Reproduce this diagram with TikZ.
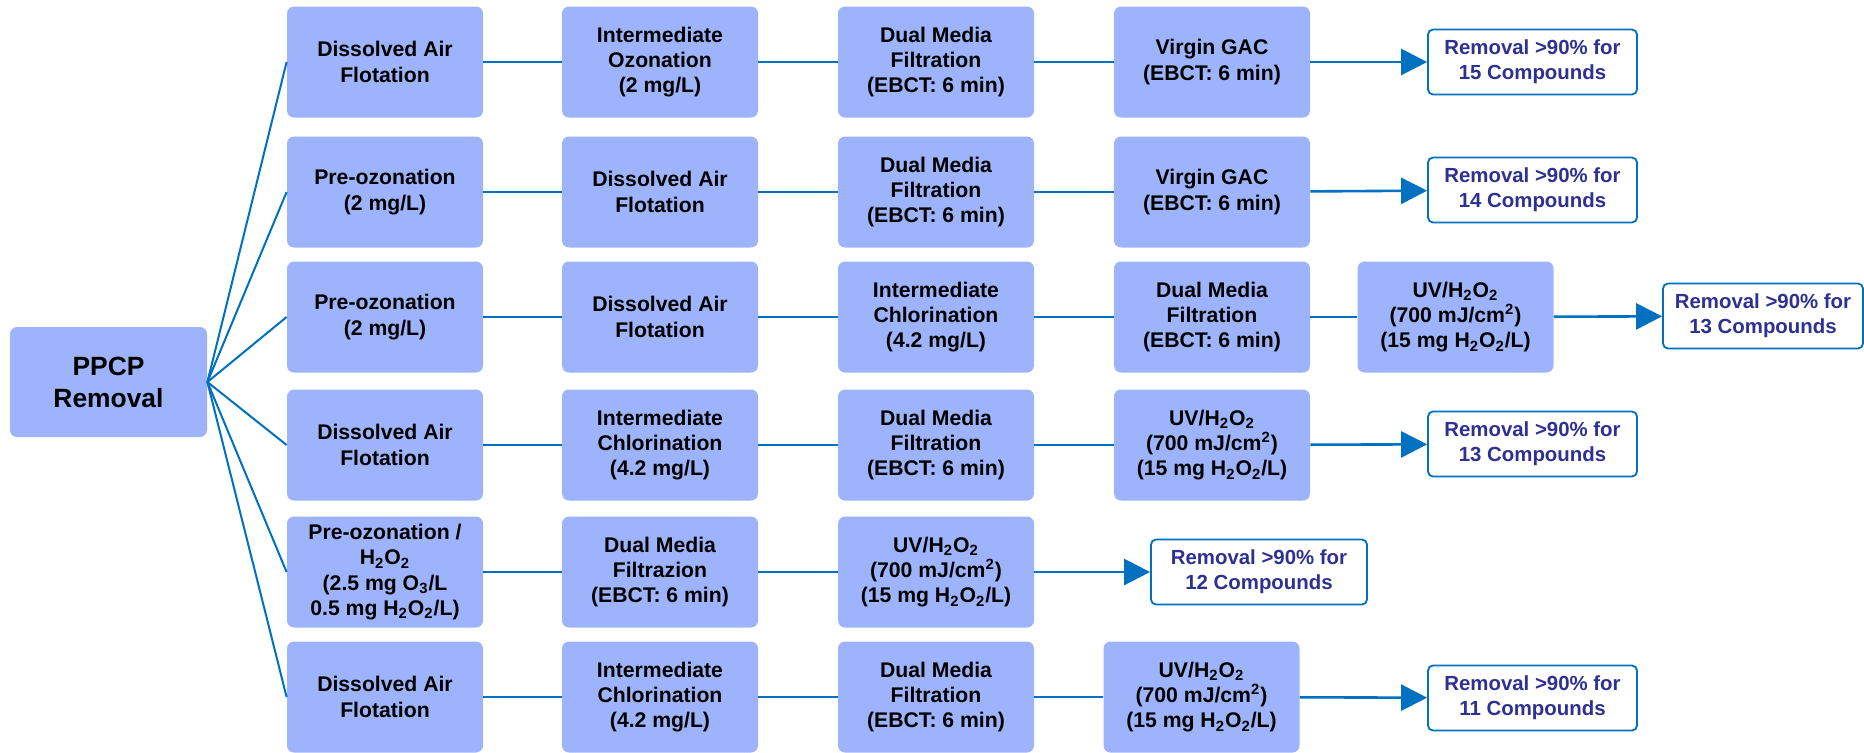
\documentclass[tikz,border=0pt]{standalone}
\usepackage{fontspec}
\setmainfont{Liberation Sans}
\usetikzlibrary{arrows.meta}

\definecolor{stagefill}{RGB}{157,180,252}
\definecolor{linkblue}{RGB}{0,112,192}
\definecolor{navytext}{RGB}{46,49,146}
\newcommand{\hto}{H\textsubscript{2}O\textsubscript{2}}

\begin{document}
\begin{tikzpicture}[x=0.5pt,y=-0.5pt,
    stage/.style={fill=stagefill, rounded corners=3.5pt, minimum width=98pt, minimum height=55.5pt,
        inner sep=0pt, align=center, font=\fontsize{10.6}{12.7}\selectfont\bfseries},
    result/.style={draw=linkblue, line width=0.9pt, fill=white, rounded corners=2.5pt,
        minimum width=104.5pt, minimum height=32.5pt, inner sep=0pt, align=center,
        text=navytext, font=\fontsize{10.2}{12.6}\selectfont\bfseries},
    link/.style={linkblue, line width=1pt},
    flow/.style={linkblue, line width=1.3pt, -{Triangle[length=13pt,width=13pt]}}]

    \useasboundingbox (0,0) rectangle (1864,752);

    \node[stage, minimum width=98.5pt, minimum height=55pt, font=\fontsize{13.2}{16}\selectfont\bfseries]
        (ppcp) at (108.5,382) {PPCP\\Removal};

    % row 1
    \node[stage] (r1a) at (385,62) {Dissolved Air\\Flotation};
    \node[stage] (r1b) at (660,62) {Intermediate\\Ozonation\\(2 mg/L)};
    \node[stage] (r1c) at (936,62) {Dual Media\\Filtration\\(EBCT: 6 min)};
    \node[stage] (r1d) at (1212,62) {Virgin GAC\\(EBCT: 6 min)};
    \node[result] (r1res) at (1532.5,62) {Removal >90\% for\\15 Compounds};

    % row 2
    \node[stage] (r2a) at (385,192) {Pre-ozonation\\(2 mg/L)};
    \node[stage] (r2b) at (660,192) {Dissolved Air\\Flotation};
    \node[stage] (r2c) at (936,192) {Dual Media\\Filtration\\(EBCT: 6 min)};
    \node[stage] (r2d) at (1212,192) {Virgin GAC\\(EBCT: 6 min)};
    \node[result] (r2res) at (1532.5,190) {Removal >90\% for\\14 Compounds};

    % row 3
    \node[stage] (r3a) at (385,317) {Pre-ozonation\\(2 mg/L)};
    \node[stage] (r3b) at (660,317) {Dissolved Air\\Flotation};
    \node[stage] (r3c) at (936,317) {Intermediate\\Chlorination\\(4.2 mg/L)};
    \node[stage] (r3d) at (1212,317) {Dual Media\\Filtration\\(EBCT: 6 min)};
    \node[stage] (r3e) at (1455.5,317) {UV/\hto\\(700 mJ/cm\textsuperscript{2})\\(15 mg \hto/L)};
    \node[result, minimum width=100pt] (r3res) at (1763,316) {Removal >90\% for\\13 Compounds};

    % row 4
    \node[stage] (r4a) at (385,445) {Dissolved Air\\Flotation};
    \node[stage] (r4b) at (660,445) {Intermediate\\Chlorination\\(4.2 mg/L)};
    \node[stage] (r4c) at (936,445) {Dual Media\\Filtration\\(EBCT: 6 min)};
    \node[stage] (r4d) at (1212,445) {UV/\hto\\(700 mJ/cm\textsuperscript{2})\\(15 mg \hto/L)};
    \node[result] (r4res) at (1532.5,444) {Removal >90\% for\\13 Compounds};

    % row 5
    \node[stage] (r5a) at (385,572) {Pre-ozonation /\\\hto\\(2.5 mg O\textsubscript{3}/L\\0.5 mg \hto/L)};
    \node[stage] (r5b) at (660,572) {Dual Media\\Filtrazion\\(EBCT: 6 min)};
    \node[stage] (r5c) at (936,572) {UV/\hto\\(700 mJ/cm\textsuperscript{2})\\(15 mg \hto/L)};
    \node[result, minimum width=108pt] (r5res) at (1259,572) {Removal >90\% for\\12 Compounds};

    % row 6
    \node[stage] (r6a) at (385,697) {Dissolved Air\\Flotation};
    \node[stage] (r6b) at (660,697) {Intermediate\\Chlorination\\(4.2 mg/L)};
    \node[stage] (r6c) at (936,697) {Dual Media\\Filtration\\(EBCT: 6 min)};
    \node[stage] (r6d) at (1201.5,697) {UV/\hto\\(700 mJ/cm\textsuperscript{2})\\(15 mg \hto/L)};
    \node[result] (r6res) at (1532.5,698) {Removal >90\% for\\11 Compounds};

    % fan out
    \draw[link] (ppcp.east) -- (r1a.west);
    \draw[link] (ppcp.east) -- (r2a.west);
    \draw[link] (ppcp.east) -- (r3a.west);
    \draw[link] (ppcp.east) -- (r4a.west);
    \draw[link] (ppcp.east) -- (r5a.west);
    \draw[link] (ppcp.east) -- (r6a.west);

    % chains
    \draw[link] (r1a) -- (r1b);
    \draw[link] (r1b) -- (r1c);
    \draw[link] (r1c) -- (r1d);
    \draw[flow] (r1d) -- (r1res);

    \draw[link] (r2a) -- (r2b);
    \draw[link] (r2b) -- (r2c);
    \draw[link] (r2c) -- (r2d);
    \draw[flow] (r2d) -- (r2res);

    \draw[link] (r3a) -- (r3b);
    \draw[link] (r3b) -- (r3c);
    \draw[link] (r3c) -- (r3d);
    \draw[link] (r3d) -- (r3e);
    \draw[flow] (r3e) -- (r3res);

    \draw[link] (r4a) -- (r4b);
    \draw[link] (r4b) -- (r4c);
    \draw[link] (r4c) -- (r4d);
    \draw[flow] (r4d) -- (r4res);

    \draw[link] (r5a) -- (r5b);
    \draw[link] (r5b) -- (r5c);
    \draw[flow] (r5c) -- (r5res);

    \draw[link] (r6a) -- (r6b);
    \draw[link] (r6b) -- (r6c);
    \draw[link] (r6c) -- (r6d);
    \draw[flow] (r6d) -- (r6res);
\end{tikzpicture}
\end{document}
